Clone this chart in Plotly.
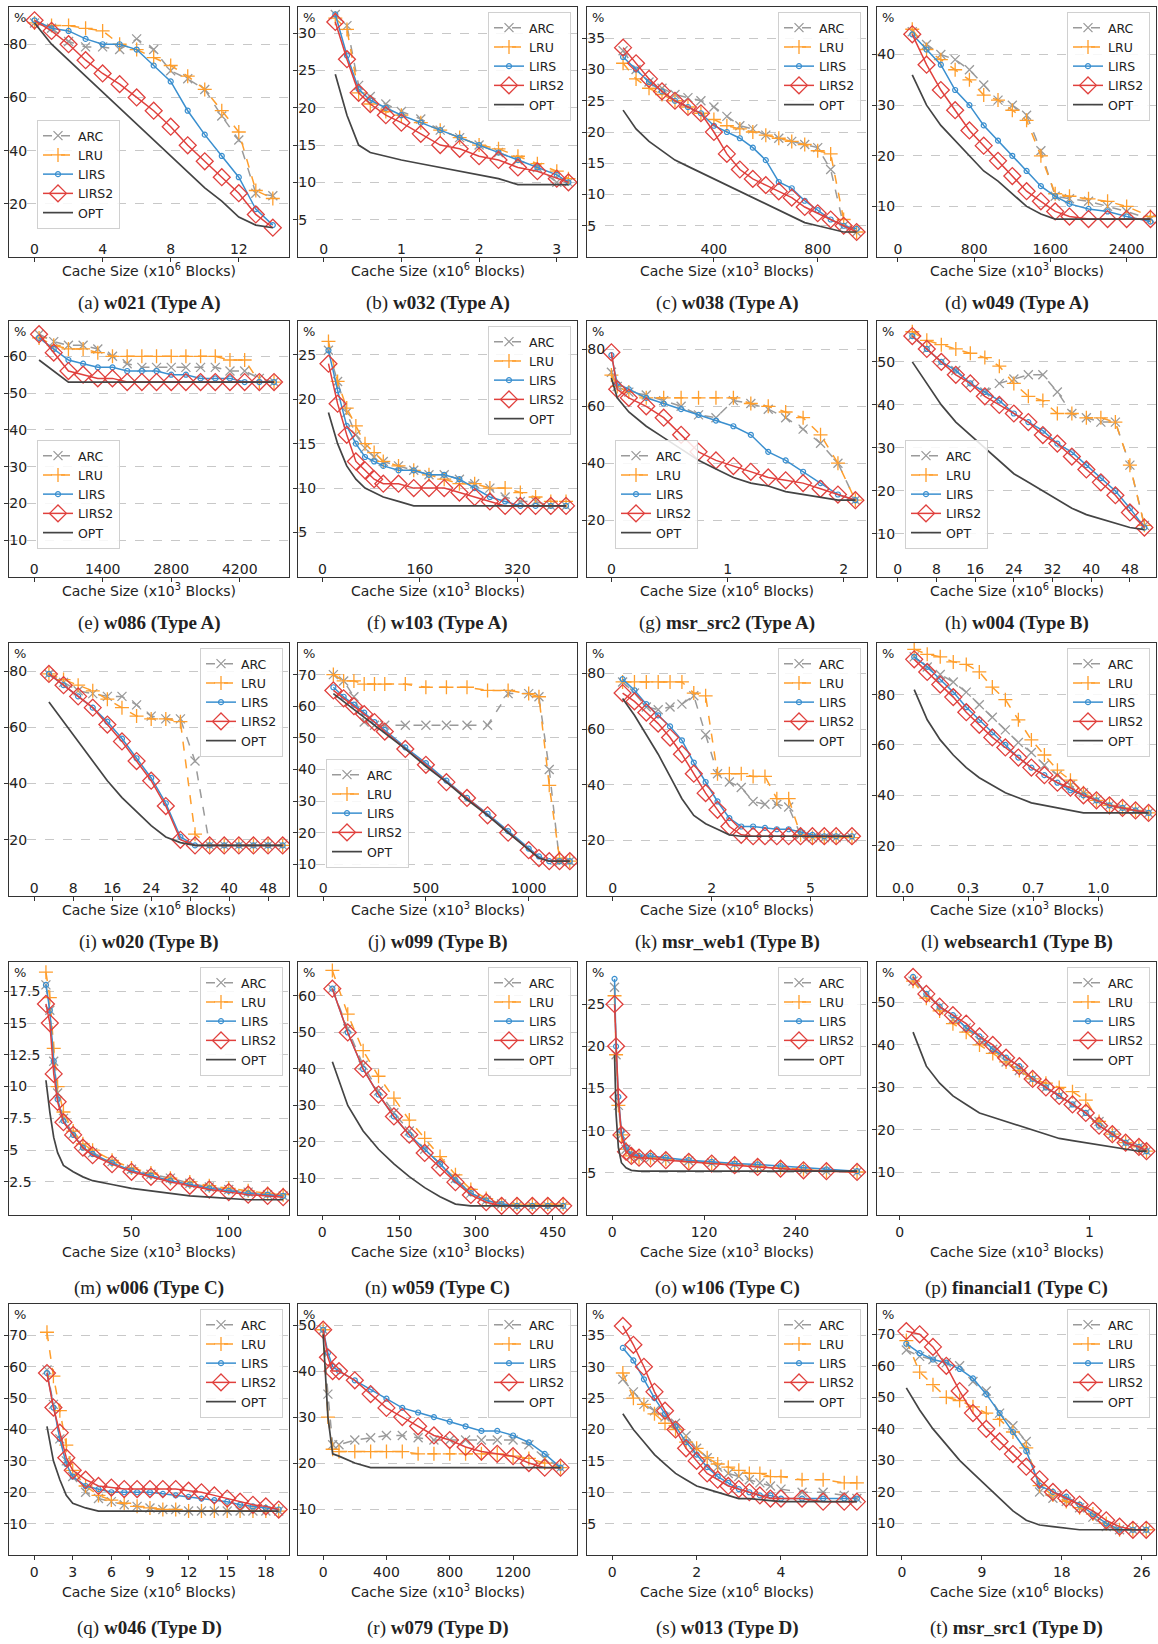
import plotly.graph_objects as go

W, H = 1158, 1644

# ---------------- data ----------------
# (a) w021
a_x = [0, 1, 2, 3, 4, 5, 6, 7, 8, 9, 10, 11, 12, 13, 14]
a_arc = [88, 86, 81, 79, 79, 78, 82, 78, 70, 67, 63, 53, 44, 24, 23]
a_lru = [88, 87, 87, 86, 85, 80, 78, 75, 72, 68, 63, 55, 47, 25, 22]
a_lirs = [89, 86, 85, 82, 80, 80, 78, 72, 66, 55, 46, 38, 30, 18, 12]
a_lirs2 = [89, 85, 80, 74, 69, 65, 60, 55, 49, 42, 36, 30, 24, 16, 11]
a_opt = [88, 80, 74, 68, 62, 56, 50, 44, 38, 32, 26, 21, 15, 12, 11]
# (b) w032
b_x = [0.15, 0.3, 0.45, 0.6, 0.8, 1, 1.25, 1.5, 1.75, 2, 2.25, 2.5, 2.75, 3, 3.15]
b_arc = [32.5, 31, 23, 21.5, 20.5, 19.5, 18.5, 17, 16, 15, 14, 13, 12, 10, 10]
b_lru = [32, 30.5, 22, 20.5, 19.5, 19, 18, 17, 16, 15, 14.5, 13.5, 12.5, 11.5, 10.5]
b_lirs = [32.5, 27, 22.5, 21, 20, 19, 18, 17, 16, 15, 14, 13, 12, 11, 10]
b_lirs2 = [31.5, 26.5, 22, 20.5, 19, 18, 16.5, 15, 14.5, 13.5, 13, 12, 11.5, 10.5, 10]
b_opt = [24.5, 19, 15, 14, 13.5, 13, 12.5, 12, 11.5, 11, 10.5, 9.7, 9.7, 9.7, 9.7]
# (c) w038
c_x = [50, 100, 150, 200, 250, 300, 350, 400, 450, 500, 550, 600, 650, 700, 750, 800, 850, 900, 950]
c_arc = [33, 30, 28, 27, 26, 25.5, 25, 24, 22.5, 21, 20.5, 19.5, 19, 18.5, 18, 17.5, 14, 5, 4]
c_lru = [31, 28.5, 27, 26, 25, 24, 23, 22, 21, 20.5, 20, 19.5, 19, 18.5, 18, 17, 16.5, 6, 4]
c_lirs = [32, 30, 28, 26.5, 25, 24, 23, 21, 20, 19, 17.5, 15.5, 12, 11, 9, 7.5, 6, 5, 4.5]
c_lirs2 = [33.5, 31, 28.5, 26.5, 25, 24, 23, 20, 16.5, 14, 12.5, 11.5, 10.5, 9.5, 8, 7, 6, 5, 4]
c_opt = [23.5, 20.5, 18.5, 17, 15.5, 14.5, 13.5, 12.5, 11.5, 10.5, 9.5, 8.5, 7.5, 6.5, 5.5, 5, 4.5, 4, 4]
# (d) w049
d_x = [150, 300, 450, 600, 750, 900, 1050, 1200, 1350, 1500, 1650, 1800, 2000, 2200, 2400, 2650]
d_arc = [44.5, 42, 40, 39, 37, 34, 31, 30, 28, 21, 12, 11.5, 11, 10, 9, 7.5]
d_lru = [45, 41, 39, 37, 35, 32, 31, 29, 27, 20, 12.5, 12, 11.5, 11, 10, 8]
d_lirs = [44, 41, 38, 33, 30, 26, 23, 20, 17, 14, 12, 10.5, 9.5, 9, 8, 7]
d_lirs2 = [44, 38, 33, 29, 25, 22, 19, 16, 13, 11, 9, 8, 7.5, 7.5, 7.5, 7.5]
d_opt = [36, 30, 26, 23, 20, 17, 15, 12.5, 10, 8.5, 7.5, 7.5, 7.5, 7.5, 7.5, 7.5]
# (e) w086
e_x = [100, 400, 700, 1000, 1300, 1600, 1900, 2200, 2500, 2800, 3100, 3400, 3700, 4000, 4300, 4600, 4900]
e_arc = [66, 64, 63, 63, 62, 60, 58, 57, 57, 57, 57, 57, 57, 56, 56, 54, 53]
e_lru = [65, 63, 62, 62, 61, 60, 60, 60, 60, 60, 60, 60, 60, 59, 59, 53, 53]
e_lirs = [65, 62, 59, 58, 57, 57, 56, 56, 56, 55, 55, 54, 54, 54, 53, 53, 53]
e_lirs2 = [66, 61, 56, 55, 54, 54, 53, 53, 53, 53, 53, 53, 53, 53, 53, 53, 53]
e_opt = [59, 56, 53, 53, 53, 53, 53, 53, 53, 53, 53, 53, 53, 53, 53, 53, 53]
# (f) w103
f_x = [10, 25, 40, 55, 70, 85, 100, 125, 150, 175, 200, 225, 250, 275, 300, 325, 350, 375, 400]
f_arc = [25.5, 22, 18.5, 16, 14.5, 13.5, 13, 12.5, 12, 11.5, 11.5, 11, 10.5, 10, 9, 8.5, 8.5, 8, 8]
f_lru = [26.5, 22, 19, 17, 15, 14, 13, 12.5, 12, 11.5, 11, 10.5, 10.5, 10, 10, 9.5, 9, 8.5, 8.5]
f_lirs = [25.5, 21, 17, 15, 13.5, 13, 12.5, 12, 12, 11.5, 11.5, 11, 10, 9, 8.5, 8, 8, 8, 8]
f_lirs2 = [24, 19.5, 16, 13, 12, 11, 10.5, 10.5, 10, 10, 10, 9.5, 9, 8.5, 8, 8, 8, 8, 8]
f_opt = [18.5, 15, 12.5, 11, 10, 9.5, 9, 8.5, 8, 8, 8, 8, 8, 8, 8, 8, 8, 8, 8]
# (g) msr_src2
g_x = [0, 0.05, 0.15, 0.3, 0.45, 0.6, 0.75, 0.9, 1.05, 1.2, 1.35, 1.5, 1.65, 1.8, 1.95, 2.1]
g_arc = [72, 67, 65, 64, 62, 60, 57, 56, 62, 61, 59, 56, 52, 47, 40, 27]
g_lru = [71, 67, 65, 63, 63, 63, 63, 63, 63, 61, 60, 58, 56, 50, 40, 27]
g_lirs = [78, 68, 66, 63, 61, 59, 57, 55, 53, 50, 44, 41, 37, 33, 29, 27]
g_lirs2 = [79, 66, 63, 60, 56, 50, 44, 41, 39, 37, 35, 34, 33, 31, 29, 27]
g_opt = [70, 63, 58, 53, 49, 45, 41, 38, 35, 33, 32, 30, 29, 28, 27, 27]
# (h) w004
h_x = [3, 6, 9, 12, 15, 18, 21, 24, 27, 30, 33, 36, 39, 42, 45, 48, 51]
h_arc = [56, 53, 50, 48, 45, 43, 45, 46, 47, 47, 43, 38, 37, 36, 36, 26, 12]
h_lru = [57, 55, 54, 53, 52, 51, 49, 45, 42, 41, 38, 38, 37, 37, 36, 26, 12]
h_lirs = [56, 53, 50, 48, 45, 43, 41, 38, 36, 34, 31, 29, 26, 23, 20, 16, 11.5]
h_lirs2 = [56, 53, 50, 47, 45, 42, 40, 38, 36, 33, 31, 28, 25, 22, 19, 15, 11.5]
h_opt = [50, 45, 40, 36, 33, 30, 27, 24, 22, 20, 18, 16, 14.5, 13.5, 12.5, 11.5, 11]
# (i) w020
i_x = [3, 6, 9, 12, 15, 18, 21, 24, 27, 30, 33, 36, 39, 42, 45, 48, 51]
i_arc = [79, 76, 73, 72, 71, 71, 68, 64, 63, 63, 48, 18, 18, 18, 18, 18, 18]
i_lru = [79, 77, 75, 73, 70, 67, 64, 63, 63, 62, 22, 18, 18, 18, 18, 18, 18]
i_lirs = [79, 75, 71, 67, 62, 56, 49, 42, 33, 21, 18, 18, 18, 18, 18, 18, 18]
i_lirs2 = [79, 75, 71, 67, 61, 55, 48, 41, 32, 20, 18, 18, 18, 18, 18, 18, 18]
i_opt = [69, 62, 55, 48, 41, 35, 30, 25, 21, 19, 18, 18, 18, 18, 18, 18, 18]
# (j) w099
j_x = [50, 100, 150, 200, 250, 300, 400, 500, 600, 700, 800, 900, 1000, 1050, 1100, 1150, 1200]
j_arc = [70, 68, 63, 55, 54, 54, 54, 54, 54, 54, 54, 64, 64, 63, 40, 11, 11]
j_lru = [70, 68, 68, 67, 67, 67, 67, 66, 66, 66, 65, 65, 64, 63, 35, 12, 11]
j_lirs = [66, 63, 60.5, 58, 55, 52.5, 47, 42, 36.5, 31, 26, 20.5, 15, 12.5, 11, 11, 11]
j_lirs2 = [65, 62.5, 60, 57.5, 55, 52, 46.5, 41.5, 36, 31, 25.5, 20, 14.5, 12, 11, 11, 11]
j_opt = [64, 61.5, 59, 56.5, 54, 51.5, 46.5, 41, 36, 30.5, 25.5, 20, 14.5, 12, 11, 11, 11]
# (k) msr_web1
k_x = [0.25, 0.55, 0.85, 1.15, 1.45, 1.75, 2.05, 2.35, 2.65, 2.95, 3.25, 3.55, 3.85, 4.15, 4.45, 4.75, 5.05, 5.35, 5.65, 6.05]
k_arc = [77, 73, 68, 67, 68, 69, 72, 58, 44, 41, 39, 34, 33, 33, 32, 22, 21, 21, 21, 21]
k_lru = [77, 77, 77, 77, 77, 77, 73, 72, 44, 44, 44, 43, 43, 35, 35, 22, 21, 21, 21, 21]
k_lirs = [78, 74, 69, 65, 61, 56, 48, 41, 34, 28, 25, 25, 24.5, 24, 24, 23, 22, 21.5, 21.5, 21.5]
k_lirs2 = [73, 70, 66, 62, 57, 51, 44, 37, 31, 25, 22, 21.5, 21.5, 21.5, 21.5, 21.5, 21.5, 21.5, 21.5, 21.5]
k_opt = [71, 65, 58, 51, 43, 35, 29, 26, 24, 22, 21.5, 21.5, 21.5, 21.5, 21.5, 21.5, 21.5, 21.5, 21.5, 21.5]
# (l) websearch1
l_x = [0.06, 0.13, 0.2, 0.27, 0.34, 0.41, 0.48, 0.55, 0.62, 0.69, 0.76, 0.83, 0.9, 0.97, 1.04, 1.11, 1.18, 1.25, 1.32]
l_arc = [95, 91, 88, 85, 81, 76, 71, 66, 61, 57, 52, 48, 44, 41, 38, 36, 35, 34, 33]
l_lru = [98, 96, 95, 93, 92, 89, 83, 78, 70, 62, 56, 50, 46, 41, 38, 36, 35, 34, 33]
l_lirs = [95, 91, 86, 81, 75, 70, 65, 60, 55, 51, 48, 45, 42, 40, 38, 36, 35, 34, 33]
l_lirs2 = [94, 89, 84, 79, 73, 68, 63, 59, 55, 51, 48, 45, 43, 40, 38, 36, 35, 34, 33]
l_opt = [82, 70, 62, 56, 51, 47, 44, 41, 39, 37, 36, 35, 34, 33, 33, 33, 33, 33, 33]
# (m) w006
m_x = [6, 8, 10, 12, 15, 20, 25, 30, 40, 50, 60, 70, 80, 90, 100, 110, 120, 128]
m_arc = [18, 16, 12, 9.5, 7.5, 6.3, 5.3, 4.8, 4.1, 3.5, 3.1, 2.8, 2.4, 2.1, 1.9, 1.7, 1.5, 1.4]
m_lru = [19, 17, 13, 10, 8, 6.5, 5.5, 5, 4.2, 3.6, 3.2, 2.8, 2.5, 2.2, 2, 1.8, 1.6, 1.5]
m_lirs = [18, 16, 12, 9, 7.3, 6.2, 5.2, 4.7, 4, 3.4, 3, 2.6, 2.3, 2, 1.8, 1.6, 1.5, 1.4]
m_lirs2 = [16.5, 15, 11, 8.8, 7.2, 6.2, 5.2, 4.6, 3.9, 3.3, 2.9, 2.5, 2.2, 1.9, 1.7, 1.5, 1.4, 1.3]
m_opt = [10.5, 8, 6, 4.8, 3.8, 3.3, 2.9, 2.6, 2.3, 2.0, 1.8, 1.6, 1.4, 1.3, 1.2, 1.1, 1.1, 1.1]
# (n) w059
n_x = [20, 50, 80, 110, 140, 170, 200, 230, 260, 290, 320, 350, 380, 410, 440, 470]
n_arc = [62, 51, 41, 34, 28, 23, 18, 14, 10, 6, 4, 3, 2.5, 2.5, 2.5, 2.5]
n_lru = [67, 55, 45, 38, 32, 26, 21, 16, 11, 7, 4.5, 3, 3, 3, 3, 3]
n_lirs = [62, 50, 40, 33, 27, 22, 18, 14, 9.5, 6, 4, 3, 2.5, 2.5, 2.5, 2.5]
n_lirs2 = [62, 50, 40, 33, 27, 22, 17, 13, 9, 5.5, 3.5, 2.5, 2.5, 2.5, 2.5, 2.5]
n_opt = [42, 30, 23, 18, 14, 10.5, 7.5, 5, 3, 2.5, 2.5, 2.5, 2.5, 2.5, 2.5, 2.5]
# (o) w106
o_x = [3, 5, 8, 12, 18, 25, 35, 50, 70, 100, 130, 160, 190, 220, 250, 280, 320]
o_arc = [27, 19, 13, 9.5, 7.8, 7, 6.8, 6.8, 6.6, 6.4, 6.2, 6, 5.8, 5.5, 5.3, 5.2, 5.1]
o_lru = [26, 19, 13, 9.5, 7.8, 7, 6.8, 6.8, 6.6, 6.3, 6.1, 6, 5.8, 5.6, 5.4, 5.2, 5.1]
o_lirs = [28, 20, 14, 10, 8, 7.2, 7, 7, 6.8, 6.5, 6.3, 6.1, 6, 5.8, 5.6, 5.4, 5.2]
o_lirs2 = [25, 20, 14, 9.5, 7.5, 7, 6.8, 6.7, 6.5, 6.3, 6.1, 5.9, 5.7, 5.5, 5.3, 5.2, 5.1]
o_opt = [19, 12, 8, 6.2, 5.6, 5.3, 5.2, 5.2, 5.2, 5.2, 5.2, 5.2, 5.2, 5.2, 5.2, 5.2, 5.2]
# (p) financial1
p_x = [0.07, 0.14, 0.21, 0.28, 0.35, 0.42, 0.49, 0.56, 0.63, 0.7, 0.77, 0.84, 0.91, 0.98, 1.05, 1.12, 1.19, 1.26, 1.3]
p_arc = [55, 52, 49, 46, 44, 41, 39, 36, 34, 32, 30, 28, 26, 24, 22, 19, 17, 16, 15]
p_lru = [55, 51, 48, 45, 43, 40, 38, 36, 34, 32, 31, 30, 29, 27, 22, 19, 17, 16, 15]
p_lirs = [56, 52, 49, 47, 44, 42, 39, 37, 35, 32, 30, 28, 26, 24, 21, 19, 17, 16, 15]
p_lirs2 = [56, 52, 49, 47, 45, 42, 40, 37, 35, 32, 30, 28, 26, 24, 21, 19, 17, 16, 15]
p_opt = [43, 35, 31, 28, 26, 24, 23, 22, 21, 20, 19, 18, 17.5, 17, 16.5, 16, 15.5, 15, 15]
# (q) w046
q_x = [1, 1.5, 2, 2.5, 3, 4, 5, 6, 7, 8, 9, 10, 11, 12, 13, 14, 15, 16, 17, 18, 19]
q_arc = [59, 48, 37, 30, 25, 20, 18, 17, 16, 15.5, 15, 14.5, 14.5, 14, 14, 14, 14, 14, 14, 14, 14]
q_lru = [71, 57, 46, 35, 27, 22, 19, 17.5, 16.5, 15.5, 15, 14.5, 14.5, 14, 14, 14, 14, 14, 14, 14, 14]
q_lirs = [58, 47, 37, 29, 25, 22, 21, 20, 20, 20, 20, 19.5, 19, 18.5, 18, 17.5, 17, 16, 15.5, 15, 14.5]
q_lirs2 = [58, 47, 39, 31, 27, 24, 22, 21.5, 21, 21, 21, 21, 21, 20.5, 20, 19, 18, 17, 16, 15.5, 14.5]
q_opt = [41, 30, 24, 19, 16.5, 15, 14, 14, 14, 14, 14, 14, 14, 14, 14, 14, 14, 14, 14, 14, 14]
# (r) w079
r_x = [0, 30, 60, 100, 200, 300, 400, 500, 600, 700, 800, 900, 1000, 1100, 1200, 1300, 1400, 1500]
r_arc = [49, 35, 24, 24, 25, 25.5, 26, 26, 25.5, 25, 25, 25, 25, 25, 25, 24, 21, 19]
r_lru = [49, 30, 23, 22.5, 22.5, 22.5, 22.5, 22.5, 22, 22, 22, 22, 22, 22, 21.5, 21, 20, 19]
r_lirs = [49, 44, 41, 40, 38, 36, 34, 32, 31, 30, 29, 28, 27, 27, 26, 24.5, 22, 19]
r_lirs2 = [49, 43, 40, 40, 38, 35, 32, 30, 28, 26, 25, 23.5, 22.5, 22, 21.5, 20, 19, 19]
r_opt = [48, 30, 22, 21.5, 20, 19, 19, 19, 19, 19, 19, 19, 19, 19, 19, 19, 19, 19]
# (s) w013
s_x = [0.25, 0.5, 0.75, 1.0, 1.25, 1.5, 1.75, 2.0, 2.25, 2.5, 2.75, 3.0, 3.25, 3.5, 3.75, 4.0, 4.5, 5.0, 5.5, 5.8]
s_arc = [28, 26, 24, 23, 22, 21, 19, 17, 15.5, 14, 13, 12.5, 12, 11.5, 11, 10.5, 10, 10, 9.5, 9]
s_lru = [29, 25, 24, 22.5, 21, 20, 18, 17, 15.5, 14.5, 14, 13.5, 13, 13, 12.5, 12.5, 12, 12, 11.5, 11.5]
s_lirs = [33, 31, 28, 25, 22.5, 20.5, 18, 16, 14, 12.5, 11.5, 10.5, 10, 9.5, 9.5, 9, 9, 9, 9, 9]
s_lirs2 = [36.5, 33.5, 30, 26, 23, 20, 17, 15, 13, 12, 11, 10.5, 10, 9.5, 9, 9, 9, 8.5, 8.5, 8.5]
s_opt = [22.5, 20, 18, 16, 14.5, 13, 12, 11, 10.5, 10, 9.5, 9, 9, 8.8, 8.7, 8.5, 8.5, 8.5, 8.5, 8.5]
# (t) msr_src1
t_x = [0.5, 2, 3.5, 5, 6.5, 8, 9.5, 11, 12.5, 14, 15.5, 17, 18.5, 20, 21.5, 23, 24.5, 26, 27.5]
t_arc = [65, 63, 62, 61, 60, 55, 52, 45, 41, 36, 20, 18, 17, 15, 12, 9, 8, 8, 8]
t_lru = [68, 58, 54, 50, 49, 47, 45, 43, 39, 34, 22, 19, 17, 15, 13, 10, 8, 8, 8]
t_lirs = [67, 64, 62, 61, 59, 56, 51, 45, 39, 33, 22, 20, 18.5, 16, 13, 10, 8, 8, 8]
t_lirs2 = [71, 70, 66, 60, 52, 45, 40, 36, 32, 28, 24, 20, 18, 16, 14, 11, 9, 8, 8]
t_opt = [53, 46, 40, 35, 30, 26, 22, 18, 14, 11, 9.5, 9, 8.5, 8, 8, 8, 8, 8, 8]

# ---------------- panel settings ----------------
# (letter, name, type, x, series, xrange, xticks, xticktext, exp, ytop, ydtick, legend corner)
panels = [
    ("a", "w021", "A", a_x, (a_arc, a_lru, a_lirs, a_lirs2, a_opt), [-1.5, 14.95], [0, 4, 8, 12], None, 6, 94, 20, "bl"),
    ("b", "w032", "A", b_x, (b_arc, b_lru, b_lirs, b_lirs2, b_opt), [-0.33, 3.26], [0, 1, 2, 3], None, 6, 33.5, 5, "tr"),
    ("c", "w038", "A", c_x, (c_arc, c_lru, c_lirs, c_lirs2, c_opt), [-89, 990], [400, 800], None, 3, 40, 5, "tr"),
    ("d", "w049", "A", d_x, (d_arc, d_lru, d_lirs, d_lirs2, d_opt), [-220, 2708], [0, 800, 1600, 2400], None, 3, 49.4, 10, "tr"),
    ("e", "w086", "A", e_x, (e_arc, e_lru, e_lirs, e_lirs2, e_opt), [-514, 5206], [0, 1400, 2800, 4200], None, 3, 69.6, 10, "bl"),
    ("f", "w103", "A", f_x, (f_arc, f_lru, f_lirs, f_lirs2, f_opt), [-40, 418], [0, 160, 320], None, 3, 28.8, 5, "tr"),
    ("g", "msr_src2", "A", g_x, (g_arc, g_lru, g_lirs, g_lirs2, g_opt), [-0.21, 2.2], [0, 1, 2], None, 6, 90, 20, "bl"),
    ("h", "w004", "B", h_x, (h_arc, h_lru, h_lirs, h_lirs2, h_opt), [-4.3, 53.4], [0, 8, 16, 24, 32, 40, 48], None, 6, 59.5, 10, "bl"),
    ("i", "w020", "B", i_x, (i_arc, i_lru, i_lirs, i_lirs2, i_opt), [-5.2, 52.3], [0, 8, 16, 24, 32, 40, 48], None, 6, 90, 20, "tr"),
    ("j", "w099", "B", j_x, (j_arc, j_lru, j_lirs, j_lirs2, j_opt), [-122, 1235], [0, 500, 1000], None, 3, 80, 10, "bl"),
    ("k", "msr_web1", "B", k_x, (k_arc, k_lru, k_lirs, k_lirs2, k_opt), [-0.65, 6.43], [0, 2.5, 5], ["0", "2", "5"], 6, 91, 20, "tr"),
    ("l", "websearch1", "B", l_x, (l_arc, l_lru, l_lirs, l_lirs2, l_opt), [-0.14, 1.36], [0, 0.35, 0.7, 1.05], ["0.0", "0.3", "0.7", "1.0"], 3, 100.5, 20, "tr"),
    ("m", "w006", "C", m_x, (m_arc, m_lru, m_lirs, m_lirs2, m_opt), [-13, 131], [0, 50, 100], None, 3, 19.8, 2.5, "tr"),
    ("n", "w059", "C", n_x, (n_arc, n_lru, n_lirs, n_lirs2, n_opt), [-47, 497], [0, 150, 300, 450], None, 3, 69.3, 10, "tr"),
    ("o", "w106", "C", o_x, (o_arc, o_lru, o_lirs, o_lirs2, o_opt), [-33, 333], [0, 120, 240], None, 3, 30, 5, "tr"),
    ("p", "financial1", "C", p_x, (p_arc, p_lru, p_lirs, p_lirs2, p_opt), [-0.12, 1.35], [0, 1], None, 3, 59.5, 10, "tr"),
    ("q", "w046", "D", q_x, (q_arc, q_lru, q_lirs, q_lirs2, q_opt), [-1.95, 19.8], [0, 3, 6, 9, 12, 15, 18], None, 6, 80, 10, "tr"),
    ("r", "w079", "D", r_x, (r_arc, r_lru, r_lirs, r_lirs2, r_opt), [-159, 1604], [0, 400, 800, 1200], None, 3, 54.6, 10, "tr"),
    ("s", "w013", "D", s_x, (s_arc, s_lru, s_lirs, s_lirs2, s_opt), [-0.6, 6.04], [0, 2, 4], None, 6, 40, 5, "tr"),
    ("t", "msr_src1", "D", t_x, (t_arc, t_lru, t_lirs, t_lirs2, t_opt), [-2.8, 28.6], [0, 9, 18, 27], ["0", "9", "18", "26"], 6, 79.6, 10, "tr"),
]

names = ["ARC", "LRU", "LIRS", "LIRS2", "OPT"]
styles = [
    dict(line=dict(color="#9a9a9a", width=1.5, dash="dash"),
         marker=dict(symbol="x-thin-open", size=9, line=dict(width=1.3, color="#9a9a9a")), mode="lines+markers"),
    dict(line=dict(color="#ff9e2c", width=1.5, dash="dash"),
         marker=dict(symbol="cross-thin-open", size=10, line=dict(width=1.3, color="#ff9e2c")), mode="lines+markers"),
    dict(line=dict(color="#3a8fcf", width=1.5),
         marker=dict(symbol="circle-open", size=5, line=dict(width=1.2, color="#3a8fcf")), mode="lines+markers"),
    dict(line=dict(color="#e0403d", width=1.5),
         marker=dict(symbol="diamond-open", size=13, line=dict(width=1.3, color="#e0403d")), mode="lines+markers"),
    dict(line=dict(color="#444444", width=1.7), mode="lines"),
]

# pixel boxes in window coordinates: (top, bottom, labels inside?)
rows = [(7, 257, True), (321, 577, True), (643, 896, True), (962, 1215, False), (1304, 1555, False)]
cols = [(9, 289), (298, 577), (587, 867), (877, 1156)]


def px(x):
    return min(max(x / W, 0), 1)


def py(y):
    return min(max(1 - y / H, 0), 1)


fig = go.Figure()
layout = dict(width=W, height=H, margin=dict(l=0, r=0, t=0, b=0), autosize=False,
              plot_bgcolor="white", paper_bgcolor="white", showlegend=True,
              font=dict(family="DejaVu Sans", size=14, color="#222"))
annotations = []
axis_font = dict(family="DejaVu Sans", size=14, color="#222")

for k, (let, name, typ, xs, series, xr, xt, xtt, ex, ytop, dt, corner) in enumerate(panels):
    r, c = divmod(k, 4)
    top, bot, inside = rows[r]
    left, right = cols[c]
    sfx = "" if k == 0 else str(k + 1)
    leg = "legend" + sfx
    for nm, ys, st in zip(names, series, styles):
        fig.add_trace(go.Scatter(x=xs, y=ys, name=nm, xaxis="x" + sfx, yaxis="y" + sfx,
                                 legend=leg, **st))
    yt = []
    v = dt
    while v < ytop - 0.4 * dt:
        yt.append(v)
        v += dt
    layout["xaxis" + sfx] = dict(
        domain=[px(left), px(right)], anchor="y" + sfx, range=xr,
        tickvals=xt, ticktext=xtt if xtt else [str(t) for t in xt],
        ticklabelposition="inside" if inside else "outside",
        ticks="outside", ticklen=4, tickcolor="#333", showgrid=False, zeroline=False,
        showline=True, linecolor="#333", linewidth=1.2, mirror=True, tickfont=axis_font)
    layout["yaxis" + sfx] = dict(
        domain=[py(bot), py(top)], anchor="x" + sfx, range=[0 if dt >= 5 else -0.1, ytop],
        tickvals=yt, ticklabelposition="inside", ticks="outside", ticklen=4, tickcolor="#333",
        showgrid=True, gridcolor="#c8c8c8", griddash="dash", gridwidth=1, zeroline=False,
        showline=True, linecolor="#333", linewidth=1.2, mirror=True, tickfont=axis_font)
    if corner == "tr":
        lx, ly, xa, ya = px(right - 6), py(top + 5), "right", "top"
    else:
        lx, ly, xa, ya = px(left + 28), py(bot - 28), "left", "bottom"
    layout[leg] = dict(x=lx, y=ly, xanchor=xa, yanchor=ya, bgcolor="rgba(255,255,255,0.85)",
                       bordercolor="#d0d0d0", borderwidth=1, itemwidth=30,
                       font=dict(family="DejaVu Sans", size=12.5, color="#222"),
                       tracegroupgap=0)
    # "%" label in top-left corner
    annotations.append(dict(x=px(left + 3), y=py(top + 1), xref="paper", yref="paper",
                            text="%", showarrow=False, xanchor="left", yanchor="top",
                            font=dict(family="DejaVu Sans", size=13, color="#222")))
    tb = bot + (13 if inside else 36)
    annotations.append(dict(x=px((left + right) / 2), y=py(tb), xref="paper", yref="paper",
                            text=f"Cache Size (x10<sup>{ex}</sup> Blocks)", showarrow=False,
                            xanchor="center", yanchor="middle", font=axis_font))
    cb = bot + (46 if inside else 73)
    annotations.append(dict(x=px((left + right) / 2), y=py(cb), xref="paper", yref="paper",
                            text=f"({let}) <b>{name} (Type {typ})</b>", showarrow=False,
                            xanchor="center", yanchor="middle",
                            font=dict(family="Liberation Serif", size=19, color="#222")))

layout["annotations"] = annotations
fig.update_layout(**layout)
# drop the default page margin so the figure fills the window exactly
fig.write_html("out.html", config={"displayModeBar": False},
               post_script="document.body.style.margin='0';document.body.style.overflow='hidden';")
